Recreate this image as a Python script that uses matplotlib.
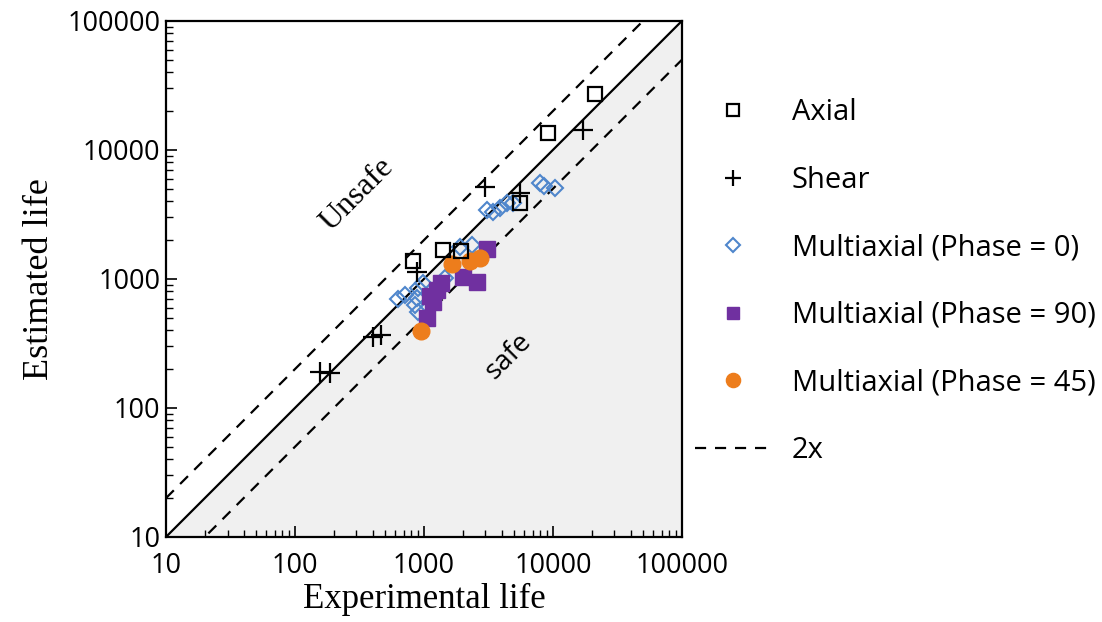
import numpy as np
import matplotlib.pyplot as plt

# experimental life (x) vs estimated life (y)
axial_x = [21200, 9140, 5550, 1400, 1940, 820]
axial_y = [27200, 13500, 3880, 1680, 1650, 1380]

shear_x = [17100, 2970, 5550, 880, 400, 464, 156, 187]
shear_y = [14300, 5170, 4640, 1130, 355, 368, 190, 187]

mp0_x = [629, 713, 883, 851, 898, 898, 983, 1455, 1900, 2355,
         3080, 3430, 3880, 4400, 4900, 7930, 8510, 10370]
mp0_y = [700, 752, 713, 629, 555, 851, 931, 1018, 1770, 1835,
         3430, 3306, 3550, 3880, 3880, 5550, 5260, 5075]

mp90_x = [1055, 1113, 1262, 1355, 2005, 2576, 3080, 1174]
mp90_y = [499, 738, 822, 931, 1037, 948, 1709, 663]

mp45_x = [948, 1648, 2273, 2718]
mp45_y = [395, 1307, 1379, 1455]

ticks = [10, 100, 1000, 10000, 100000]
tick_labels = ['10', '100', '1000', '10000', '100000']

sans = ['Open Sans', 'DejaVu Sans']
serif = ['Liberation Serif', 'DejaVu Serif']

fig = plt.figure(figsize=(11.02, 6.22), dpi=100)
ax = fig.add_axes([0.1506, 0.1367, 0.4682, 0.8297])
ax.set_xscale('log')
ax.set_yscale('log')
ax.set_xlim(10, 100000)
ax.set_ylim(10, 100000)

line = np.array([10, 100000])
ax.fill_between(line, 10, line, color='#f0f0f0', zorder=0)
ax.plot(line, line, color='black', lw=1.6, zorder=1)
ax.plot(line, line * 2, color='black', lw=1.6, ls=(0, (5, 4)), zorder=1)
ax.plot(line, line / 2, color='black', lw=1.6, ls=(0, (5, 4)), zorder=1, label='2x')

ax.plot(mp0_x, mp0_y, ls='none', marker='D', ms=8, mfc='none', mec='#4f86cc', mew=1.5,
        label='Multiaxial (Phase = 0)', zorder=3)
ax.plot(mp90_x, mp90_y, ls='none', marker='s', ms=11, color='#7030a0',
        label='Multiaxial (Phase = 90)', zorder=4)
ax.plot(mp45_x, mp45_y, ls='none', marker='o', ms=12, color='#ed7d1c',
        label='Multiaxial (Phase = 45)', zorder=5)
ax.plot(axial_x, axial_y, ls='none', marker='s', ms=10, mfc='none', mec='black', mew=1.6,
        label='Axial', zorder=6)
ax.plot(shear_x, shear_y, ls='none', marker='+', ms=14, color='black', mew=1.6,
        label='Shear', zorder=6)

ax.text(303, 4480, 'Unsafe', rotation=45, ha='center', va='center', fontsize=23, family=serif)
ax.text(4560, 253, 'safe', rotation=45, ha='center', va='center', fontsize=20, family=sans)

ax.set_xticks(ticks)
ax.set_xticklabels(tick_labels, fontsize=19.5, family=sans)
ax.set_yticks(ticks)
ax.set_yticklabels(tick_labels, fontsize=19.5, family=sans)
ax.tick_params(which='both', direction='in', top=False, right=False)
ax.tick_params(which='major', length=8, width=1.2, pad=4)
ax.tick_params(which='minor', length=5, width=1.0)
ax.tick_params(axis='x', which='major', pad=11)
for s in ax.spines.values():
    s.set_linewidth(1.6)

ax.set_xlabel('Experimental life', fontsize=25, family=serif, labelpad=2)
ax.set_ylabel('Estimated life', fontsize=26, family=serif, labelpad=8)

handles, labels = ax.get_legend_handles_labels()
order = ['Axial', 'Shear', 'Multiaxial (Phase = 0)', 'Multiaxial (Phase = 90)',
         'Multiaxial (Phase = 45)', '2x']
hl = [handles[labels.index(n)] for n in order]
leg = ax.legend(hl, order, loc='center left', bbox_to_anchor=(0.975, 0.495), frameon=False,
                prop={'family': sans, 'size': 21}, labelspacing=1.32, handlelength=2.6,
                handletextpad=0.7, markerscale=0.85)

fig.savefig('out.png', dpi=100)
